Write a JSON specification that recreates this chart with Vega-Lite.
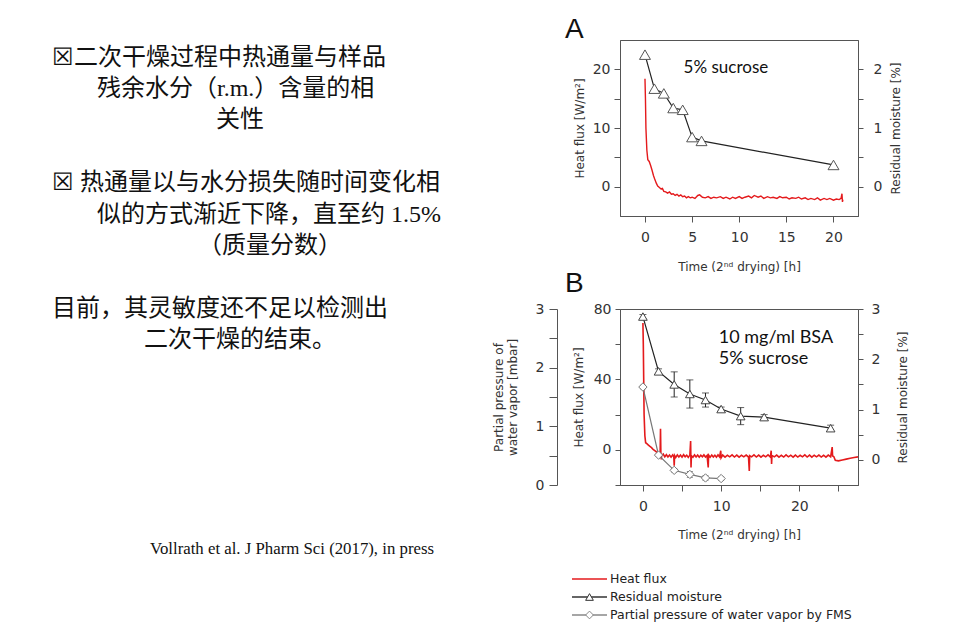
{
  "$schema": "https://vega.github.io/schema/vega-lite/v6.json",
  "background": "white",
  "padding": {"left": 0, "top": 15, "right": 0, "bottom": 0},
  "spacing": 21,
  "config": {
    "view": {"stroke": null},
    "axis": {"labelFont": "DejaVu Sans", "titleFont": "DejaVu Sans", "labelFontSize": 14, "titleFontSize": 12, "titleFontWeight": "normal", "labelColor": "#333333", "titleColor": "#333333", "domainColor": "#555555", "tickColor": "#555555", "grid": false, "tickSize": 6, "labelPadding": 4, "titlePadding": 6, "labelOverlap": false},
    "title": {"font": "Liberation Sans", "fontSize": 28, "fontWeight": "normal", "color": "#111111", "anchor": "start", "frame": "group", "baseline": "alphabetic"}
  },
  "hconcat": [
    {
      "width": 470,
      "height": 595,
      "data": {"values": [
        {"line": 1, "text": "☒二次干燥过程中热通量与样品"},
        {"line": 2, "text": "残余水分（r.m.）含量的相"},
        {"line": 3, "text": "关性"},
        {"line": 5, "text": "☒ 热通量以与水分损失随时间变化相"},
        {"line": 6, "text": "似的方式渐近下降，直至约 1.5%"},
        {"line": 7, "text": "（质量分数）"},
        {"line": 9, "text": "目前，其灵敏度还不足以检测出"},
        {"line": 10, "text": "二次干燥的结束。"}
      ]},
      "layer": [
        {
          "transform": [{"filter": {"field": "line", "oneOf": [1, 5, 9]}}],
          "mark": {"type": "text", "align": "left", "baseline": "middle", "font": "Liberation Serif, Noto Sans CJK SC", "fontSize": 24, "color": "#111111"},
          "encoding": {
            "x": {"datum": 52, "type": "quantitative", "scale": {"domain": [0, 470], "nice": false, "zero": false}, "axis": null},
            "y": {"field": "line", "type": "quantitative", "scale": {"domain": [0.44, 19.37], "reverse": true, "nice": false, "zero": false}, "axis": null},
            "text": {"field": "text"}
          }
        },
        {
          "transform": [{"filter": {"field": "line", "oneOf": [2, 6]}}],
          "mark": {"type": "text", "align": "left", "baseline": "middle", "font": "Liberation Serif, Noto Sans CJK SC", "fontSize": 24, "color": "#111111"},
          "encoding": {
            "x": {"datum": 97, "type": "quantitative"},
            "y": {"field": "line", "type": "quantitative"},
            "text": {"field": "text"}
          }
        },
        {
          "transform": [{"filter": {"field": "line", "oneOf": [3, 10]}}],
          "mark": {"type": "text", "align": "center", "baseline": "middle", "font": "Liberation Serif, Noto Sans CJK SC", "fontSize": 24, "color": "#111111"},
          "encoding": {
            "x": {"datum": 240, "type": "quantitative"},
            "y": {"field": "line", "type": "quantitative"},
            "text": {"field": "text"}
          }
        },
        {
          "transform": [{"filter": {"field": "line", "equal": 7}}],
          "mark": {"type": "text", "align": "center", "baseline": "middle", "font": "Liberation Serif, Noto Sans CJK SC", "fontSize": 24, "color": "#111111"},
          "encoding": {
            "x": {"datum": 270, "type": "quantitative"},
            "y": {"field": "line", "type": "quantitative"},
            "text": {"field": "text"}
          }
        },
        {
          "data": {"values": [{"cite": "Vollrath et al. J Pharm Sci (2017), in press"}]},
          "mark": {"type": "text", "align": "left", "baseline": "middle", "font": "Liberation Serif", "fontSize": 16.8, "color": "#111111"},
          "encoding": {
            "x": {"datum": 150, "type": "quantitative"},
            "y": {"datum": 16.62, "type": "quantitative"},
            "text": {"field": "cite"}
          }
        }
      ]
    },
    {
      "spacing": -4,
      "vconcat": [
        {
          "width": 238,
          "height": 176,
          "title": {"text": "A", "dx": -55, "offset": -4},
          "view": {"stroke": "#555555"},
          "resolve": {"scale": {"y": "independent"}},
          "layer": [
            {
              "data": {"values": [
                {"t": 0, "hf": 18.4}, {"t": 0.05, "hf": 15}, {"t": 0.1, "hf": 10}, {"t": 0.2, "hf": 6.2}, {"t": 0.3, "hf": 4.6}, {"t": 0.45, "hf": 4.3}, {"t": 0.6, "hf": 3.6}, {"t": 0.75, "hf": 2.8}, {"t": 0.9, "hf": 1.9}, {"t": 1.05, "hf": 1.2}, {"t": 1.2, "hf": 0.6}, {"t": 1.35, "hf": 0.1}, {"t": 1.5, "hf": -0.1}, {"t": 1.7, "hf": -0.4}, {"t": 1.85, "hf": -0.3}, {"t": 2.0, "hf": -0.8}, {"t": 2.2, "hf": -0.9}, {"t": 2.4, "hf": -1.1}, {"t": 2.6, "hf": -0.9}, {"t": 2.8, "hf": -1.3}, {"t": 3.0, "hf": -1.2}, {"t": 3.2, "hf": -1.5}, {"t": 3.4, "hf": -1.3}, {"t": 3.6, "hf": -1.6}, {"t": 3.8, "hf": -1.4}, {"t": 4.0, "hf": -1.7}, {"t": 4.2, "hf": -1.6}, {"t": 4.4, "hf": -1.9}, {"t": 4.6, "hf": -1.7}, {"t": 4.8, "hf": -1.9}, {"t": 5.0, "hf": -1.8}, {"t": 5.3, "hf": -2.0}, {"t": 5.6, "hf": -1.5}, {"t": 5.8, "hf": -1.4}, {"t": 6.1, "hf": -1.8}, {"t": 6.4, "hf": -1.9}, {"t": 6.7, "hf": -1.7}, {"t": 7.0, "hf": -2.0}, {"t": 7.3, "hf": -1.8}, {"t": 7.6, "hf": -1.9}, {"t": 8.0, "hf": -1.7}, {"t": 8.3, "hf": -2.0}, {"t": 8.6, "hf": -1.8}, {"t": 9.0, "hf": -2.1}, {"t": 9.3, "hf": -1.8}, {"t": 9.6, "hf": -2.0}, {"t": 10.0, "hf": -1.7}, {"t": 10.3, "hf": -2.0}, {"t": 10.6, "hf": -1.8}, {"t": 11.0, "hf": -1.6}, {"t": 11.3, "hf": -1.9}, {"t": 11.6, "hf": -1.5}, {"t": 12.0, "hf": -1.8}, {"t": 12.3, "hf": -1.6}, {"t": 12.6, "hf": -2.0}, {"t": 13.0, "hf": -1.7}, {"t": 13.3, "hf": -1.9}, {"t": 13.6, "hf": -1.8}, {"t": 14.0, "hf": -2.0}, {"t": 14.3, "hf": -1.7}, {"t": 14.6, "hf": -1.9}, {"t": 15.0, "hf": -1.8}, {"t": 15.3, "hf": -2.1}, {"t": 15.6, "hf": -1.9}, {"t": 16.0, "hf": -2.0}, {"t": 16.3, "hf": -1.8}, {"t": 16.6, "hf": -2.1}, {"t": 17.0, "hf": -1.9}, {"t": 17.3, "hf": -2.2}, {"t": 17.6, "hf": -2.0}, {"t": 18.0, "hf": -2.2}, {"t": 18.3, "hf": -1.9}, {"t": 18.6, "hf": -2.3}, {"t": 19.0, "hf": -2.0}, {"t": 19.3, "hf": -2.2}, {"t": 19.6, "hf": -2.0}, {"t": 20.0, "hf": -2.3}, {"t": 20.3, "hf": -2.1}, {"t": 20.6, "hf": -2.2}, {"t": 20.8, "hf": -2.0}, {"t": 20.9, "hf": -1.2}, {"t": 20.95, "hf": -2.6}, {"t": 21.0, "hf": -2.2}
              ]},
              "mark": {"type": "line", "color": "#e41a1c", "strokeWidth": 1.4, "clip": true},
              "encoding": {
                "x": {"field": "t", "type": "quantitative", "title": "Time (2ⁿᵈ drying) [h]", "scale": {"domain": [-2.65, 22.6], "nice": false, "zero": false}, "axis": {"values": [0, 5, 10, 15, 20], "labelPadding": 8, "titlePadding": 17}},
                "y": {"field": "hf", "type": "quantitative", "title": "Heat flux [W/m²]", "scale": {"domain": [-5, 25], "nice": false, "zero": false}, "axis": {"orient": "left", "values": [0, 5, 10, 15, 20], "format": "d", "labelExpr": "datum.value % 10 === 0 ? datum.label : ''"}}
              }
            },
            {
              "data": {"values": [
                {"t": 0, "rm": 2.25}, {"t": 1, "rm": 1.67}, {"t": 2, "rm": 1.59}, {"t": 3, "rm": 1.34}, {"t": 4, "rm": 1.31}, {"t": 5, "rm": 0.845}, {"t": 6, "rm": 0.78}, {"t": 20, "rm": 0.37}
              ]},
              "encoding": {
                "x": {"field": "t", "type": "quantitative", "title": "Time (2ⁿᵈ drying) [h]"},
                "y": {"field": "rm", "type": "quantitative", "title": "Residual moisture [%]", "scale": {"domain": [-0.5, 2.5], "nice": false, "zero": false}, "axis": {"orient": "right", "values": [0, 0.5, 1, 1.5, 2], "format": ".0f", "labelExpr": "datum.value % 1 === 0 ? datum.label : ''", "tickSize": 5, "labelPadding": 10, "titlePadding": 21, "titleAngle": 270}}
              },
              "layer": [
                {"mark": {"type": "line", "color": "#222222", "strokeWidth": 1.2}},
                {"mark": {"type": "point", "shape": "triangle-up", "filled": true, "fill": "white", "stroke": "#555555", "strokeWidth": 1, "size": 120, "opacity": 1}}
              ]
            },
            {
              "data": {"values": [{"label": "5% sucrose"}]},
              "mark": {"type": "text", "align": "left", "baseline": "middle", "font": "Lato", "fontSize": 17, "color": "#111111"},
              "encoding": {
                "x": {"datum": 4.1, "type": "quantitative"},
                "y": {"datum": 20.3, "type": "quantitative", "scale": {"domain": [-5, 25], "nice": false, "zero": false}, "axis": null},
                "text": {"field": "label"}
              }
            }
          ]
        },
        {
          "width": 238,
          "height": 176,
          "title": {"text": "B", "dx": -55, "offset": 4},
          "view": {"stroke": "#555555"},
          "resolve": {"scale": {"y": "independent"}},
          "layer": [
            {
              "data": {"values": [
                {"t": 0, "hf": 72}, {"t": 0.05, "hf": 60}, {"t": 0.1, "hf": 40}, {"t": 0.15, "hf": 20}, {"t": 0.25, "hf": 8}, {"t": 0.35, "hf": 4}, {"t": 0.5, "hf": 3.5}, {"t": 0.7, "hf": 2.7}, {"t": 0.9, "hf": 1.9}, {"t": 1.1, "hf": 1.2}, {"t": 1.3, "hf": 0.3}, {"t": 1.6, "hf": -0.7}, {"t": 1.8, "hf": -1.5}, {"t": 2.0, "hf": -2.2}, {"t": 2.1, "hf": -3.0}, {"t": 2.2, "hf": -2.5}, {"t": 2.25, "hf": 12}, {"t": 2.3, "hf": -3.5}, {"t": 2.35, "hf": -5.5}, {"t": 2.4, "hf": -3.2}, {"t": 2.6, "hf": -2.4}, {"t": 2.8, "hf": -4.0}, {"t": 3.0, "hf": -2.8}, {"t": 3.2, "hf": -4.1}, {"t": 3.4, "hf": -3.0}, {"t": 3.6, "hf": -4.2}, {"t": 3.8, "hf": -2.9}, {"t": 3.95, "hf": -4.0}, {"t": 4.0, "hf": -9}, {"t": 4.05, "hf": -3.2}, {"t": 4.2, "hf": -4.3}, {"t": 4.4, "hf": -2.9}, {"t": 4.6, "hf": -4.1}, {"t": 4.8, "hf": -3.0}, {"t": 5.0, "hf": -4.2}, {"t": 5.2, "hf": -2.8}, {"t": 5.4, "hf": -4.0}, {"t": 5.6, "hf": -3.1}, {"t": 5.8, "hf": -4.3}, {"t": 6.0, "hf": -3.0}, {"t": 6.1, "hf": 5}, {"t": 6.15, "hf": -10}, {"t": 6.2, "hf": -3.3}, {"t": 6.4, "hf": -4.2}, {"t": 6.6, "hf": -2.9}, {"t": 6.8, "hf": -4.1}, {"t": 7.0, "hf": -3.0}, {"t": 7.2, "hf": -4.2}, {"t": 7.4, "hf": -3.1}, {"t": 7.6, "hf": -4.0}, {"t": 7.8, "hf": -2.9}, {"t": 8.0, "hf": -4.1}, {"t": 8.2, "hf": -3.2}, {"t": 8.35, "hf": -10}, {"t": 8.4, "hf": -3.0}, {"t": 8.6, "hf": -4.2}, {"t": 8.8, "hf": -3.0}, {"t": 9.0, "hf": -4.1}, {"t": 9.2, "hf": -3.1}, {"t": 9.4, "hf": -4.2}, {"t": 9.6, "hf": -2.9}, {"t": 9.8, "hf": -4.0}, {"t": 9.95, "hf": -0.5}, {"t": 10.0, "hf": -4.5}, {"t": 10.2, "hf": -3.0}, {"t": 10.5, "hf": -4.2}, {"t": 10.8, "hf": -3.1}, {"t": 11.1, "hf": -4.0}, {"t": 11.4, "hf": -2.9}, {"t": 11.7, "hf": -4.1}, {"t": 12.0, "hf": -3.0}, {"t": 12.3, "hf": -4.2}, {"t": 12.6, "hf": -3.1}, {"t": 12.9, "hf": -4.0}, {"t": 13.2, "hf": -3.0}, {"t": 13.5, "hf": -4.1}, {"t": 13.6, "hf": -12}, {"t": 13.65, "hf": -3.3}, {"t": 13.9, "hf": -4.0}, {"t": 14.2, "hf": -2.9}, {"t": 14.5, "hf": -4.1}, {"t": 14.8, "hf": -3.0}, {"t": 15.1, "hf": -4.2}, {"t": 15.4, "hf": -3.1}, {"t": 15.7, "hf": -4.0}, {"t": 16.0, "hf": -2.9}, {"t": 16.3, "hf": -4.1}, {"t": 16.4, "hf": -0.5}, {"t": 16.45, "hf": -8}, {"t": 16.5, "hf": -3.2}, {"t": 16.8, "hf": -4.0}, {"t": 17.1, "hf": -3.0}, {"t": 17.4, "hf": -4.2}, {"t": 17.7, "hf": -3.1}, {"t": 18.0, "hf": -4.1}, {"t": 18.3, "hf": -2.9}, {"t": 18.6, "hf": -4.0}, {"t": 18.9, "hf": -3.1}, {"t": 19.2, "hf": -4.2}, {"t": 19.5, "hf": -3.0}, {"t": 19.8, "hf": -4.1}, {"t": 20.1, "hf": -3.1}, {"t": 20.4, "hf": -4.0}, {"t": 20.7, "hf": -2.9}, {"t": 21.0, "hf": -4.1}, {"t": 21.3, "hf": -3.0}, {"t": 21.6, "hf": -4.2}, {"t": 21.9, "hf": -3.1}, {"t": 22.2, "hf": -4.0}, {"t": 22.5, "hf": -3.0}, {"t": 22.8, "hf": -4.1}, {"t": 23.1, "hf": -3.1}, {"t": 23.4, "hf": -4.2}, {"t": 23.7, "hf": -3.0}, {"t": 24.0, "hf": -4.0}, {"t": 24.2, "hf": 1.5}, {"t": 24.25, "hf": -3.5}, {"t": 24.4, "hf": -3.8}, {"t": 24.6, "hf": -6.0}, {"t": 25.0, "hf": -6.3}, {"t": 25.5, "hf": -5.8}, {"t": 26.0, "hf": -5.3}, {"t": 26.5, "hf": -4.8}, {"t": 27.0, "hf": -4.4}, {"t": 27.5, "hf": -4.0}
              ]},
              "mark": {"type": "line", "color": "#e41a1c", "strokeWidth": 1.6, "clip": true},
              "encoding": {
                "x": {"field": "t", "type": "quantitative", "title": "Time (2ⁿᵈ drying) [h]", "scale": {"domain": [-2.93, 27.5], "nice": false, "zero": false}, "axis": {"values": [0, 5, 10, 15, 20, 25], "labelExpr": "datum.value % 10 === 0 ? datum.label : ''", "labelPadding": 8, "titlePadding": 16}},
                "y": {"field": "hf", "type": "quantitative", "title": "Heat flux [W/m²]", "scale": {"domain": [-20, 80], "nice": false, "zero": false}, "axis": {"orient": "left", "values": [-20, 0, 20, 40, 60, 80], "format": "d", "labelExpr": "datum.value % 40 === 0 ? datum.label : ''", "tickSize": 5, "titlePadding": 8}}
              }
            },
            {
              "data": {"values": [
                {"t": 0, "rm": 2.85, "err": 0.04}, {"t": 2, "rm": 1.76, "err": 0.05}, {"t": 4, "rm": 1.5, "err": 0.25}, {"t": 6, "rm": 1.31, "err": 0.28}, {"t": 8, "rm": 1.19, "err": 0.14}, {"t": 10, "rm": 1.01, "err": 0.04}, {"t": 12.5, "rm": 0.87, "err": 0.17}, {"t": 15.5, "rm": 0.85, "err": 0.05}, {"t": 24, "rm": 0.63, "err": 0.06}
              ]},
              "encoding": {
                "x": {"field": "t", "type": "quantitative", "title": "Time (2ⁿᵈ drying) [h]"},
                "y": {"field": "rm", "type": "quantitative", "title": "Residual moisture [%]", "scale": {"domain": [-0.5, 3], "nice": false, "zero": false}, "axis": {"orient": "right", "values": [0, 0.5, 1, 1.5, 2, 2.5, 3], "format": ".0f", "labelExpr": "datum.value % 1 === 0 ? datum.label : ''", "tickSize": 5, "labelPadding": 8, "titlePadding": 30, "titleAngle": 270}}
              },
              "layer": [
                {"mark": {"type": "line", "color": "#222222", "strokeWidth": 1.2}},
                {"mark": {"type": "errorbar", "ticks": {"size": 7, "color": "#222222"}, "rule": {"color": "#222222", "strokeWidth": 1}}, "encoding": {"yError": {"field": "err"}}},
                {"mark": {"type": "point", "shape": "triangle-up", "filled": true, "fill": "white", "stroke": "#444444", "strokeWidth": 1, "size": 75, "opacity": 1}}
              ]
            },
            {
              "data": {"values": [
                {"t": 0, "pp": 1.67, "err": 0.03}, {"t": 2, "pp": 0.51, "err": 0.02}, {"t": 4, "pp": 0.25, "err": 0.03}, {"t": 6, "pp": 0.18, "err": 0.05}, {"t": 8, "pp": 0.12, "err": 0.04}, {"t": 10, "pp": 0.11, "err": 0.03}
              ]},
              "encoding": {
                "x": {"field": "t", "type": "quantitative", "title": "Time (2ⁿᵈ drying) [h]"},
                "y": {"field": "pp", "type": "quantitative", "title": ["Partial pressure of", "water vapor [mbar]"], "scale": {"domain": [0, 3], "nice": false, "zero": false}, "axis": {"orient": "left", "offset": 63, "values": [0, 0.5, 1, 1.5, 2, 2.5, 3], "format": ".0f", "labelExpr": "datum.value % 1 === 0 ? datum.label : ''", "tickSize": 8, "labelPadding": 5, "titlePadding": 16}}
              },
              "layer": [
                {"mark": {"type": "line", "color": "#777777", "strokeWidth": 1.2}},
                {"mark": {"type": "errorbar", "ticks": {"size": 6, "color": "#555555"}, "rule": {"color": "#555555", "strokeWidth": 1}}, "encoding": {"yError": {"field": "err"}}},
                {"mark": {"type": "point", "shape": "diamond", "filled": true, "fill": "white", "stroke": "#777777", "strokeWidth": 1, "size": 70, "opacity": 1}}
              ]
            },
            {
              "data": {"values": [{"label": "10 mg/ml BSA", "k": 1}, {"label": "5% sucrose", "k": 2}]},
              "layer": [
                {
                  "transform": [{"filter": "datum.k === 1"}],
                  "mark": {"type": "text", "align": "left", "baseline": "middle", "font": "Lato", "fontSize": 18, "color": "#111111"},
                  "encoding": {
                    "x": {"datum": 9.7, "type": "quantitative"},
                    "y": {"datum": 63.5, "type": "quantitative", "scale": {"domain": [-20, 80], "nice": false, "zero": false}, "axis": null},
                    "text": {"field": "label"}
                  }
                },
                {
                  "transform": [{"filter": "datum.k === 2"}],
                  "mark": {"type": "text", "align": "left", "baseline": "middle", "font": "Lato", "fontSize": 18, "color": "#111111"},
                  "encoding": {
                    "x": {"datum": 9.7, "type": "quantitative"},
                    "y": {"datum": 51.6, "type": "quantitative"},
                    "text": {"field": "label"}
                  }
                }
              ]
            }
          ]
        },
        {
          "width": 238,
          "height": 90,
          "data": {"values": [
            {"row": 0, "series": "Heat flux"},
            {"row": 1, "series": "Residual moisture"},
            {"row": 2, "series": "Partial pressure of water vapor by FMS"}
          ]},
          "layer": [
            {
              "mark": {"type": "rule", "strokeWidth": 1.3},
              "encoding": {
                "x": {"datum": -48, "type": "quantitative", "scale": {"domain": [0, 238], "nice": false, "zero": false}, "axis": null},
                "x2": {"datum": -13},
                "y": {"field": "row", "type": "quantitative", "scale": {"domain": [-2.11, 2.89], "reverse": true, "nice": false, "zero": false}, "axis": null},
                "stroke": {"field": "series", "type": "nominal", "scale": {"domain": ["Heat flux", "Residual moisture", "Partial pressure of water vapor by FMS"], "range": ["#e41a1c", "#333333", "#888888"]}, "legend": null}
              }
            },
            {
              "transform": [{"filter": "datum.row > 0"}],
              "mark": {"type": "point", "filled": true, "fill": "white", "strokeWidth": 1, "size": 60, "opacity": 1},
              "encoding": {
                "x": {"datum": -30.5, "type": "quantitative"},
                "y": {"field": "row", "type": "quantitative"},
                "shape": {"field": "series", "type": "nominal", "scale": {"domain": ["Heat flux", "Residual moisture", "Partial pressure of water vapor by FMS"], "range": ["circle", "triangle-up", "diamond"]}, "legend": null},
                "stroke": {"field": "series", "type": "nominal", "legend": null}
              }
            },
            {
              "mark": {"type": "text", "align": "left", "baseline": "middle", "font": "DejaVu Sans", "fontSize": 12.5, "color": "#222222"},
              "encoding": {
                "x": {"datum": -10, "type": "quantitative"},
                "y": {"field": "row", "type": "quantitative"},
                "text": {"field": "series"}
              }
            }
          ]
        }
      ]
    }
  ]
}
